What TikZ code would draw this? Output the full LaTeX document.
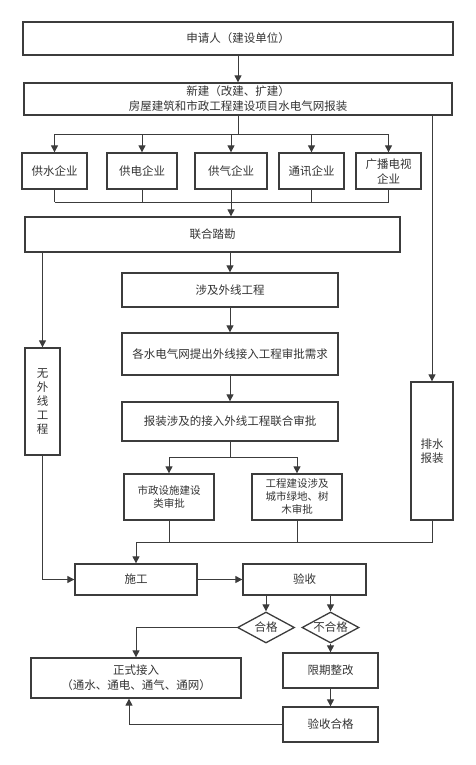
\documentclass[tikz,border=0pt]{standalone}
\usepackage{fontspec}
\usepackage{tikz}
\usetikzlibrary{shapes.geometric}
\usetikzlibrary{arrows.meta}
\newfontfamily\cjk{Noto Sans CJK SC}
\definecolor{linec}{HTML}{3C3C3C}
\definecolor{textc}{HTML}{333333}
\tikzset{
	box/.style={draw=linec, line width=1.3pt, text=textc, align=center, inner sep=0pt, font=\cjk\fontsize{11.5}{15}\selectfont},
	smallbox/.style={box, font=\cjk\fontsize{10.5}{13}\selectfont},
	choice/.style={box, shape=diamond, aspect=1.84, minimum width=57pt, minimum height=31pt},
	wire/.style={draw=linec, line width=1pt},
	arr/.style={wire, -{Triangle[length=7pt,width=7pt]}}
}

\begin{document}
\begin{tikzpicture}[x=1pt, y=-1pt]
			\useasboundingbox (0, 0) rectangle (476, 765);
			% Nodes:
			\node[box, minimum width=430pt, minimum height=33pt](apply) at (238, 38.5){申请人（建设单位）};
			\node[box, minimum width=428pt, minimum height=32pt](project) at (238, 99){新建（改建、扩建）\\房屋建筑和市政工程建设项目水电气网报装};
			\node[box, minimum width=65pt, minimum height=36pt](water) at (54.5, 171){供水企业};
			\node[box, minimum width=70pt, minimum height=36pt](power) at (142, 171){供电企业};
			\node[box, minimum width=72pt, minimum height=36pt](gas) at (231, 171){供气企业};
			\node[box, minimum width=65pt, minimum height=36pt](tele) at (311.5, 171){通讯企业};
			\node[box, minimum width=65pt, minimum height=36pt](tv) at (388.5, 171){广播电视\\企业};
			\node[box, minimum width=375pt, minimum height=35pt](survey) at (212.5, 234.5){联合踏勘};
			\node[box, minimum width=216pt, minimum height=34pt](outer) at (230, 290){涉及外线工程};
			\node[box, minimum width=216pt, minimum height=42pt](demand) at (230, 354){各水电气网提出外线接入工程审批需求};
			\node[box, minimum width=216pt, minimum height=39pt](joint) at (230, 421.5){报装涉及的接入外线工程联合审批};
			\node[box, font=\cjk\fontsize{11.5}{14}\selectfont, minimum width=35pt, minimum height=107pt](noouter) at (42.5, 401.5){无\\外\\线\\工\\程};
			\node[box, font=\cjk\fontsize{11.5}{13.5}\selectfont, minimum width=42pt, minimum height=138pt](drain) at (432, 451){排水\\报装};
			\node[smallbox, minimum width=90pt, minimum height=46pt](muni) at (169, 497){市政设施建设\\类审批};
			\node[smallbox, minimum width=90pt, minimum height=46pt](green) at (297, 497){工程建设涉及\\城市绿地、树\\木审批};
			\node[box, minimum width=122pt, minimum height=31pt](build) at (136, 579.5){施工};
			\node[box, minimum width=123pt, minimum height=31pt](check) at (304.5, 579.5){验收};
			\node[choice](ok) at (266, 627.5){合格};
			\node[choice](fail) at (330.5, 627.5){不合格};
			\node[box, minimum width=210pt, minimum height=40pt](formal) at (136, 678){正式接入\\（通水、通电、通气、通网）};
			\node[box, minimum width=95pt, minimum height=35pt](rect) at (330.5, 670.5){限期整改};
			\node[box, minimum width=95pt, minimum height=35pt](pass) at (330.5, 724.5){验收合格};
			% Bus lines:
			\coordinate (bus1) at (0, 134);
			\coordinate (bus2) at (0, 202);
			\coordinate (bus3) at (0, 457);
			\coordinate (bus4) at (0, 542);
			% Wires:
			\draw[arr] (apply) -- (project);
			\draw[wire] (project.south) -- (project.south |- bus1);
			\draw[wire] (water.north |- bus1) -- (tv.north |- bus1);
			\foreach \n in {water, power, gas, tele, tv}
				\draw[arr] (\n.north |- bus1) -- (\n.north);
			\foreach \n in {water, power, gas, tele, tv}
				\draw[wire] (\n.south) -- (\n.south |- bus2);
			\draw[wire] (water.south |- bus2) -- (tv.south |- bus2);
			\draw[arr] (gas.south |- bus2) -- (gas.south |- survey.north);
			\draw[arr] (survey.south -| outer.north) -- (outer.north);
			\draw[arr] (outer) -- (demand);
			\draw[arr] (demand) -- (joint);
			\draw[arr] (survey.south -| noouter.north) -- (noouter.north);
			\draw[arr] (project.south -| drain.north) -- (drain.north);
			\draw[wire] (joint.south) -- (joint.south |- bus3);
			\draw[wire] (muni.north |- bus3) -- (green.north |- bus3);
			\draw[arr] (muni.north |- bus3) -- (muni.north);
			\draw[arr] (green.north |- bus3) -- (green.north);
			\draw[wire] (muni.south) -- (muni.south |- bus4);
			\draw[wire] (green.south) -- (green.south |- bus4);
			\draw[wire] (drain.south) -- (drain.south |- bus4) -- (build.north |- bus4);
			\draw[arr] (build.north |- bus4) -- (build.north);
			\draw[arr] (noouter.south) |- (build.west);
			\draw[arr] (build) -- (check);
			\draw[arr] (check.south -| ok.north) -- (ok.north);
			\draw[arr] (check.south -| fail.north) -- (fail.north);
			\draw[arr] (ok.west) -| (formal.north);
			\draw[arr] (fail.south) -- (rect.north);
			\draw[arr] (rect) -- (pass);
			\draw[arr] (pass.west) -| ([xshift=-7pt]formal.south);
		\end{tikzpicture}
\end{document}
